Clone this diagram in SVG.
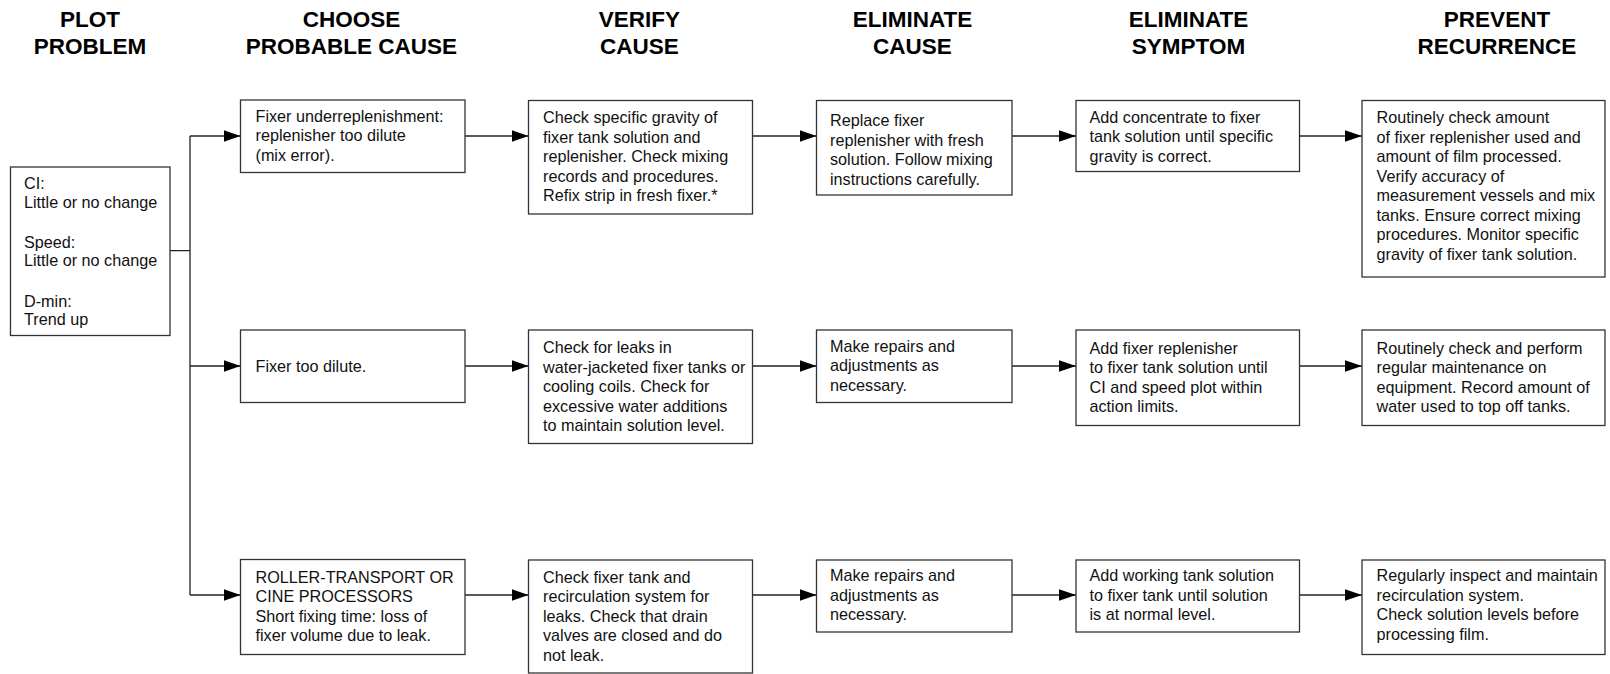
<svg xmlns="http://www.w3.org/2000/svg" width="1610" height="674" viewBox="0 0 1610 674">
  <style>
    .hdr { font-family: "Liberation Sans", Arial, Helvetica, sans-serif; font-weight: bold; font-size: 22.5px; fill: #000; text-anchor: middle; }
    .box { fill: #fff; stroke: #333; stroke-width: 1.3; }
    .txt { font-family: "Liberation Sans", Arial, Helvetica, sans-serif; font-size: 16.2px; fill: #111; }
    .wire { fill: none; stroke: #222; stroke-width: 1.3; }
  </style>
  <defs>
    <marker id="arrow" markerUnits="userSpaceOnUse" markerWidth="17" markerHeight="12" refX="17" refY="5.8" orient="auto">
      <path d="M0,0 L17,5.8 L0,11.6 Z" fill="#000"/>
    </marker>
  </defs>
  <rect width="1610" height="674" fill="#fff"/>

  <!-- column headings -->
  <g id="headers">
    <text class="hdr" x="90" y="26.5">PLOT</text>
    <text class="hdr" x="90" y="53.5">PROBLEM</text>
    <text class="hdr" x="351.5" y="26.5">CHOOSE</text>
    <text class="hdr" x="351.5" y="53.5">PROBABLE CAUSE</text>
    <text class="hdr" x="639.5" y="26.5">VERIFY</text>
    <text class="hdr" x="639.5" y="53.5">CAUSE</text>
    <text class="hdr" x="912.5" y="26.5">ELIMINATE</text>
    <text class="hdr" x="912.5" y="53.5">CAUSE</text>
    <text class="hdr" x="1188.5" y="26.5">ELIMINATE</text>
    <text class="hdr" x="1188.5" y="53.5">SYMPTOM</text>
    <text class="hdr" x="1497" y="26.5">PREVENT</text>
    <text class="hdr" x="1497" y="53.5">RECURRENCE</text>
  </g>

  <!-- connectors -->
  <g id="connectors">
    <path class="wire" d="M170,250.7 H190 M190,136 V595"/>
    <line class="wire" x1="190" y1="136" x2="240.5" y2="136" marker-end="url(#arrow)"/>
    <line class="wire" x1="190" y1="366" x2="240.5" y2="366" marker-end="url(#arrow)"/>
    <line class="wire" x1="190" y1="595" x2="240.5" y2="595" marker-end="url(#arrow)"/>

    <line class="wire" x1="465" y1="136" x2="528.5" y2="136" marker-end="url(#arrow)"/>
    <line class="wire" x1="752.5" y1="136" x2="816.5" y2="136" marker-end="url(#arrow)"/>
    <line class="wire" x1="1012" y1="136" x2="1076" y2="136" marker-end="url(#arrow)"/>
    <line class="wire" x1="1299.5" y1="136" x2="1362" y2="136" marker-end="url(#arrow)"/>

    <line class="wire" x1="465" y1="366" x2="528.5" y2="366" marker-end="url(#arrow)"/>
    <line class="wire" x1="752.5" y1="366" x2="816.5" y2="366" marker-end="url(#arrow)"/>
    <line class="wire" x1="1012" y1="366" x2="1076" y2="366" marker-end="url(#arrow)"/>
    <line class="wire" x1="1299.5" y1="366" x2="1362" y2="366" marker-end="url(#arrow)"/>

    <line class="wire" x1="465" y1="595" x2="528.5" y2="595" marker-end="url(#arrow)"/>
    <line class="wire" x1="752.5" y1="595" x2="816.5" y2="595" marker-end="url(#arrow)"/>
    <line class="wire" x1="1012" y1="595" x2="1076" y2="595" marker-end="url(#arrow)"/>
    <line class="wire" x1="1299.5" y1="595" x2="1362" y2="595" marker-end="url(#arrow)"/>
  </g>

  <!-- problem -->
  <g id="problem">
    <rect class="box" x="10.5" y="167" width="159.5" height="168.5"/>
    <text class="txt" x="24" y="189">CI:</text>
    <text class="txt" x="24" y="207.5">Little or no change</text>
    <text class="txt" x="24" y="248">Speed:</text>
    <text class="txt" x="24" y="266">Little or no change</text>
    <text class="txt" x="24" y="306.5">D-min:</text>
    <text class="txt" x="24" y="324.5">Trend up</text>
  </g>

  <!-- row 1 -->
  <g id="cause-1">
    <rect class="box" x="240.5" y="100" width="224.5" height="72.5"/>
    <text class="txt" x="255.5" y="121.5">Fixer underreplenishment:</text>
    <text class="txt" x="255.5" y="141">replenisher too dilute</text>
    <text class="txt" x="255.5" y="160.5">(mix error).</text>
  </g>
  <g id="verify-1">
    <rect class="box" x="528.5" y="100.5" width="224" height="113.5"/>
    <text class="txt" x="543" y="123">Check specific gravity of</text>
    <text class="txt" x="543" y="142.5">fixer tank solution and</text>
    <text class="txt" x="543" y="162">replenisher. Check mixing</text>
    <text class="txt" x="543" y="181.5">records and procedures.</text>
    <text class="txt" x="543" y="201">Refix strip in fresh fixer.*</text>
  </g>
  <g id="eliminate-cause-1">
    <rect class="box" x="816.5" y="100.5" width="195.5" height="94.5"/>
    <text class="txt" x="830" y="126">Replace fixer</text>
    <text class="txt" x="830" y="145.5">replenisher with fresh</text>
    <text class="txt" x="830" y="165">solution. Follow mixing</text>
    <text class="txt" x="830" y="184.5">instructions carefully.</text>
  </g>
  <g id="eliminate-symptom-1">
    <rect class="box" x="1076" y="100.5" width="223.5" height="71"/>
    <text class="txt" x="1089.5" y="122.7">Add concentrate to fixer</text>
    <text class="txt" x="1089.5" y="142.2">tank solution until specific</text>
    <text class="txt" x="1089.5" y="161.7">gravity is correct.</text>
  </g>
  <g id="prevent-1">
    <rect class="box" x="1362" y="100.5" width="243" height="176.5"/>
    <text class="txt" x="1376.5" y="123.3">Routinely check amount</text>
    <text class="txt" x="1376.5" y="142.8">of fixer replenisher used and</text>
    <text class="txt" x="1376.5" y="162.3">amount of film processed.</text>
    <text class="txt" x="1376.5" y="181.8">Verify accuracy of</text>
    <text class="txt" x="1376.5" y="201.3">measurement vessels and mix</text>
    <text class="txt" x="1376.5" y="220.8">tanks. Ensure correct mixing</text>
    <text class="txt" x="1376.5" y="240.3">procedures. Monitor specific</text>
    <text class="txt" x="1376.5" y="259.8">gravity of fixer tank solution.</text>
  </g>

  <!-- row 2 -->
  <g id="cause-2">
    <rect class="box" x="240.5" y="330" width="224.5" height="72.5"/>
    <text class="txt" x="255.5" y="371.5">Fixer too dilute.</text>
  </g>
  <g id="verify-2">
    <rect class="box" x="528.5" y="330" width="224" height="113.5"/>
    <text class="txt" x="543" y="353">Check for leaks in</text>
    <text class="txt" x="543" y="372.5">water-jacketed fixer tanks or</text>
    <text class="txt" x="543" y="392">cooling coils. Check for</text>
    <text class="txt" x="543" y="411.5">excessive water additions</text>
    <text class="txt" x="543" y="431">to maintain solution level.</text>
  </g>
  <g id="eliminate-cause-2">
    <rect class="box" x="816.5" y="330" width="195.5" height="72.5"/>
    <text class="txt" x="830" y="351.5">Make repairs and</text>
    <text class="txt" x="830" y="371">adjustments as</text>
    <text class="txt" x="830" y="390.5">necessary.</text>
  </g>
  <g id="eliminate-symptom-2">
    <rect class="box" x="1076" y="330" width="223.5" height="95.5"/>
    <text class="txt" x="1089.5" y="353.5">Add fixer replenisher</text>
    <text class="txt" x="1089.5" y="373">to fixer tank solution until</text>
    <text class="txt" x="1089.5" y="392.5">CI and speed plot within</text>
    <text class="txt" x="1089.5" y="412">action limits.</text>
  </g>
  <g id="prevent-2">
    <rect class="box" x="1362" y="330" width="243" height="95.5"/>
    <text class="txt" x="1376.5" y="353.5">Routinely check and perform</text>
    <text class="txt" x="1376.5" y="373">regular maintenance on</text>
    <text class="txt" x="1376.5" y="392.5">equipment. Record amount of</text>
    <text class="txt" x="1376.5" y="412">water used to top off tanks.</text>
  </g>

  <!-- row 3 -->
  <g id="cause-3">
    <rect class="box" x="240.5" y="559.5" width="224.5" height="95"/>
    <text class="txt" x="255.5" y="582.5">ROLLER-TRANSPORT OR</text>
    <text class="txt" x="255.5" y="602">CINE PROCESSORS</text>
    <text class="txt" x="255.5" y="621.5">Short fixing time: loss of</text>
    <text class="txt" x="255.5" y="641">fixer volume due to leak.</text>
  </g>
  <g id="verify-3">
    <rect class="box" x="528.5" y="560" width="224" height="113"/>
    <text class="txt" x="543" y="582.5">Check fixer tank and</text>
    <text class="txt" x="543" y="602">recirculation system for</text>
    <text class="txt" x="543" y="621.5">leaks. Check that drain</text>
    <text class="txt" x="543" y="641">valves are closed and do</text>
    <text class="txt" x="543" y="660.5">not leak.</text>
  </g>
  <g id="eliminate-cause-3">
    <rect class="box" x="816.5" y="560" width="195.5" height="72"/>
    <text class="txt" x="830" y="581">Make repairs and</text>
    <text class="txt" x="830" y="600.5">adjustments as</text>
    <text class="txt" x="830" y="620">necessary.</text>
  </g>
  <g id="eliminate-symptom-3">
    <rect class="box" x="1076" y="560" width="223.5" height="72"/>
    <text class="txt" x="1089.5" y="581">Add working tank solution</text>
    <text class="txt" x="1089.5" y="600.5">to fixer tank until solution</text>
    <text class="txt" x="1089.5" y="620">is at normal level.</text>
  </g>
  <g id="prevent-3">
    <rect class="box" x="1362" y="560" width="243" height="94.5"/>
    <text class="txt" x="1376.5" y="581">Regularly inspect and maintain</text>
    <text class="txt" x="1376.5" y="600.5">recirculation system.</text>
    <text class="txt" x="1376.5" y="620">Check solution levels before</text>
    <text class="txt" x="1376.5" y="639.5">processing film.</text>
  </g>
</svg>
